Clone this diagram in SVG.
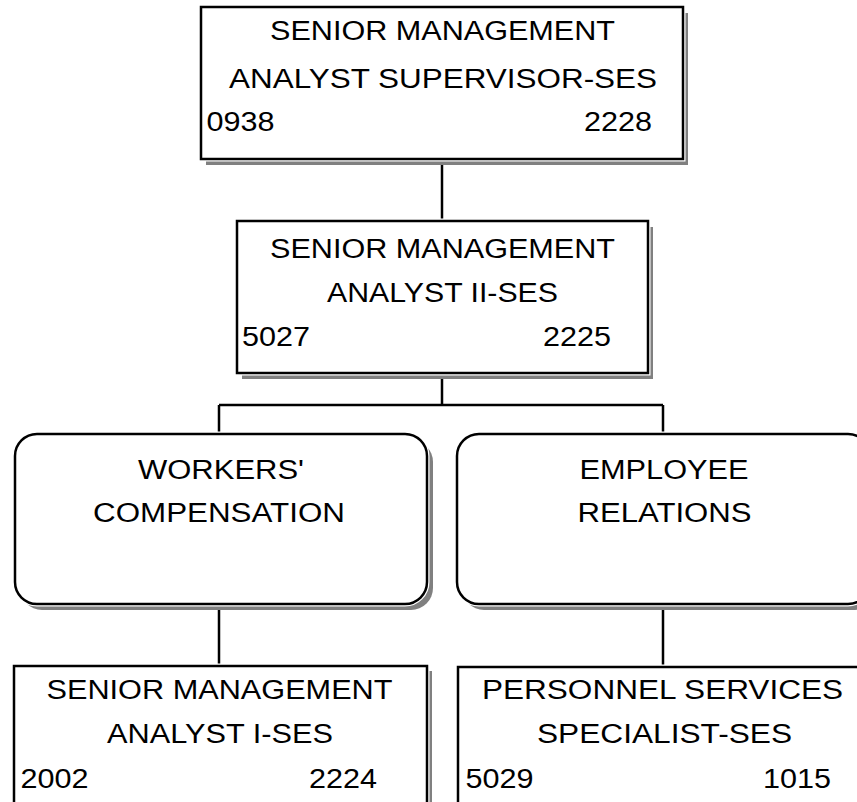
<svg xmlns="http://www.w3.org/2000/svg" width="857" height="802" viewBox="0 0 857 802">
  <style>
    .shadow { fill: #808080; }
    .box { fill: #ffffff; stroke: #000000; stroke-width: 2.5; }
    .halo { fill: none; stroke: #ffffff; stroke-width: 5; }
    .wire { fill: none; stroke: #000000; stroke-width: 2.5; }
    text { font-family: "Liberation Sans", Arial, sans-serif; font-size: 27px; fill: #000000; }
    .c { text-anchor: middle; }
    .e { text-anchor: end; }
  </style>

  <!-- connectors -->
  <g id="connectors">
    <path class="wire" d="M442 159 V221"/>
    <path class="wire" d="M442 373 V405 M219 405 H663 M219 405 V434 M663 405 V434"/>
    <path class="wire" d="M219 604 V666 M663 604 V667"/>
  </g>

  <!-- top: supervisor -->
  <g id="node-supervisor">
    <rect class="shadow" x="206" y="13" width="482" height="152"/>
    <rect class="halo" x="201" y="7" width="482" height="152"/>
    <rect class="box" x="201" y="7" width="482" height="152"/>
    <text class="c" x="442.5" y="40" textLength="345" lengthAdjust="spacingAndGlyphs">SENIOR MANAGEMENT</text>
    <text class="c" x="443" y="88" textLength="428" lengthAdjust="spacingAndGlyphs">ANALYST SUPERVISOR-SES</text>
    <text x="206.5" y="131" textLength="68" lengthAdjust="spacingAndGlyphs">0938</text>
    <text class="e" x="652" y="131" textLength="68" lengthAdjust="spacingAndGlyphs">2228</text>
  </g>

  <!-- analyst II -->
  <g id="node-analyst-2">
    <rect class="shadow" x="242" y="227" width="411" height="152"/>
    <rect class="halo" x="237" y="221" width="411" height="152"/>
    <rect class="box" x="237" y="221" width="411" height="152"/>
    <text class="c" x="442.5" y="258" textLength="345" lengthAdjust="spacingAndGlyphs">SENIOR MANAGEMENT</text>
    <text class="c" x="442.5" y="302" textLength="231" lengthAdjust="spacingAndGlyphs">ANALYST II-SES</text>
    <text x="242" y="346" textLength="68" lengthAdjust="spacingAndGlyphs">5027</text>
    <text class="e" x="611" y="346" textLength="68" lengthAdjust="spacingAndGlyphs">2225</text>
  </g>

  <!-- unit: workers' compensation -->
  <g id="node-workers-comp">
    <rect class="shadow" x="20" y="440" width="413" height="170" rx="22" ry="22"/>
    <rect class="halo" x="15" y="434" width="412" height="170" rx="22" ry="22"/>
    <rect class="box" x="15" y="434" width="412" height="170" rx="22" ry="22"/>
    <text class="c" x="221" y="479" textLength="166" lengthAdjust="spacingAndGlyphs">WORKERS'</text>
    <text class="c" x="219" y="522" textLength="252" lengthAdjust="spacingAndGlyphs">COMPENSATION</text>
  </g>

  <!-- unit: employee relations -->
  <g id="node-employee-relations">
    <rect class="shadow" x="462" y="440" width="413" height="170" rx="22" ry="22"/>
    <rect class="halo" x="457" y="434" width="413" height="170" rx="22" ry="22"/>
    <rect class="box" x="457" y="434" width="413" height="170" rx="22" ry="22"/>
    <text class="c" x="664" y="479" textLength="169" lengthAdjust="spacingAndGlyphs">EMPLOYEE</text>
    <text class="c" x="664.5" y="522" textLength="174" lengthAdjust="spacingAndGlyphs">RELATIONS</text>
  </g>

  <!-- analyst I -->
  <g id="node-analyst-1">
    <rect class="shadow" x="19" y="671" width="413" height="150"/>
    <rect class="halo" x="14" y="666" width="413" height="150"/>
    <rect class="box" x="14" y="666" width="413" height="150"/>
    <text class="c" x="219.5" y="699" textLength="346" lengthAdjust="spacingAndGlyphs">SENIOR MANAGEMENT</text>
    <text class="c" x="220" y="743" textLength="226" lengthAdjust="spacingAndGlyphs">ANALYST I-SES</text>
    <text x="20.5" y="788" textLength="68" lengthAdjust="spacingAndGlyphs">2002</text>
    <text x="309" y="788" textLength="68" lengthAdjust="spacingAndGlyphs">2224</text>
  </g>

  <!-- personnel services specialist -->
  <g id="node-personnel-specialist">
    <rect class="shadow" x="463" y="672" width="413" height="150"/>
    <rect class="halo" x="458" y="667" width="413" height="150"/>
    <rect class="box" x="458" y="667" width="413" height="150"/>
    <text class="c" x="662.5" y="699" textLength="361" lengthAdjust="spacingAndGlyphs">PERSONNEL SERVICES</text>
    <text class="c" x="664.5" y="743" textLength="255" lengthAdjust="spacingAndGlyphs">SPECIALIST-SES</text>
    <text x="465.5" y="788" textLength="68" lengthAdjust="spacingAndGlyphs">5029</text>
    <text class="e" x="831" y="788" textLength="68" lengthAdjust="spacingAndGlyphs">1015</text>
  </g>
</svg>
